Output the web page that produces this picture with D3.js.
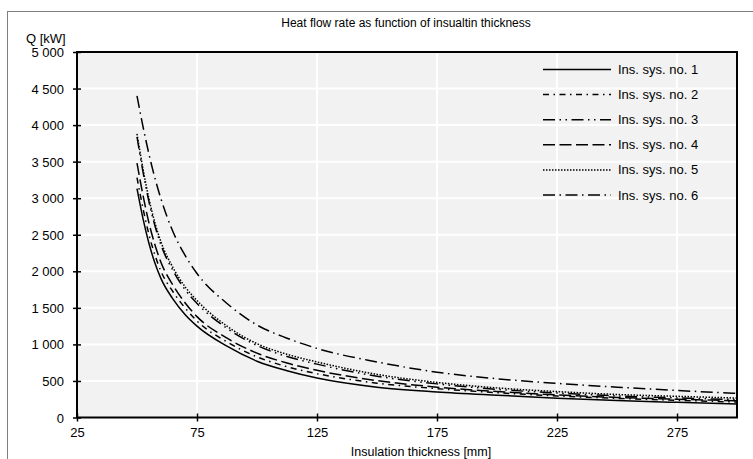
<!DOCTYPE html>
<html>
<head>
<meta charset="utf-8">
<script src="https://cdn.jsdelivr.net/npm/d3@7/dist/d3.min.js"></script>
<style>
  html, body { margin: 0; padding: 0; background: #fff; }
  svg { display: block; font-family: "Liberation Sans", Arial, sans-serif; }
</style>
</head>
<body>
<svg id="chart" width="753" height="459"></svg>
<script>
// ---------- data ----------
const title = "Heat flow rate as function of insualtin thickness";
const xTitle = "Insulation thickness [mm]";
const yTitle = "Q [kW]";
const thickness = [50, 52.5, 55, 57.5, 60, 65, 70, 75, 87.5, 100, 112.5, 125, 150, 175, 200, 225, 250, 275, 300];
const seriesNames = ["Ins. sys. no. 1", "Ins. sys. no. 2", "Ins. sys. no. 3", "Ins. sys. no. 4", "Ins. sys. no. 5", "Ins. sys. no. 6"];
const sys1 = [3130, 2720, 2380, 2110, 1900, 1620, 1410, 1250, 975, 770, 640, 540, 415, 350, 305, 265, 232, 207, 185];
const sys2 = [3280, 2860, 2500, 2220, 2000, 1720, 1500, 1320, 1035, 830, 695, 600, 470, 395, 340, 295, 262, 235, 212];
const sys3 = [3840, 3360, 2950, 2620, 2360, 2010, 1750, 1560, 1220, 985, 835, 730, 565, 460, 385, 335, 295, 268, 245];
const sys4 = [3480, 3040, 2660, 2360, 2120, 1810, 1570, 1380, 1085, 880, 745, 645, 505, 415, 355, 310, 275, 250, 230];
const sys5 = [3880, 3400, 2990, 2660, 2400, 2050, 1790, 1600, 1250, 1010, 865, 760, 590, 480, 405, 355, 315, 290, 266];
const sys6 = [4400, 3980, 3600, 3270, 2990, 2540, 2220, 1970, 1560, 1265, 1085, 945, 760, 620, 530, 467, 415, 370, 330];
const xTicks = [25, 75, 125, 175, 225, 275];
const yTicks = [0, 500, 1000, 1500, 2000, 2500, 3000, 3500, 4000, 4500, 5000];
const seriesValues = [sys1, sys2, sys3, sys4, sys5, sys6];
const dashes = ["none", "6,4.5,1.5,4.5", "12,4.5,1.5,4.5,1.5,4.5", "12,4.5", "1.5,1.5", "12,4.5,1.5,4.5"];

// ---------- layout ----------
const svg = d3.select("#chart");
const L = 77, R = 737, T = 52, B = 417.5;
const x = d3.scaleLinear().domain([25, 300]).range([L, R]);
const y = d3.scaleLinear().domain([0, 5000]).range([B, T]);
const fmt = v => d3.format(",")(v).replace(/,/g, " ");

// outer chart border
svg.append("rect").attr("x", 7.5).attr("y", 11.5).attr("width", 800).attr("height", 500)
  .attr("fill", "#fff").attr("stroke", "#7f7f7f").attr("stroke-width", 1);

// plot background
svg.append("rect").attr("x", L).attr("y", T).attr("width", R - L).attr("height", B - T)
  .attr("fill", "#f2f2f2");

// gridlines
svg.append("g").selectAll("line").data(yTicks.filter(d => d > 0 && d < 5000)).join("line")
  .attr("x1", L).attr("x2", R).attr("y1", d => y(d)).attr("y2", d => y(d))
  .attr("stroke", "#fff").attr("stroke-width", 2);
svg.append("g").selectAll("line").data(xTicks.filter(d => d > 25)).join("line")
  .attr("x1", d => x(d)).attr("x2", d => x(d)).attr("y1", T).attr("y2", B)
  .attr("stroke", "#fff").attr("stroke-width", 2);

// clip
svg.append("clipPath").attr("id", "clip").append("rect")
  .attr("x", L).attr("y", T).attr("width", R - L).attr("height", B - T);

// lines
const line = d3.line().x(d => x(d[0])).y(d => y(d[1])).curve(d3.curveMonotoneX);
const gLines = svg.append("g").attr("clip-path", "url(#clip)");
seriesValues.forEach((vals, i) => {
  gLines.append("path")
    .datum(thickness.map((t, j) => [t, vals[j]]))
    .attr("d", line)
    .attr("fill", "none")
    .attr("stroke", "#000")
    .attr("stroke-width", 1.5)
    .attr("stroke-dasharray", dashes[i]);
});

// plot frame
svg.append("rect").attr("x", L).attr("y", T).attr("width", R - L).attr("height", B - T)
  .attr("fill", "none").attr("stroke", "#000").attr("stroke-width", 2);

// axes (cross ticks)
const yAxis = d3.axisLeft(y).tickValues(yTicks).tickSize(0).tickFormat(fmt);
const gy = svg.append("g").attr("transform", `translate(${L},0)`).call(yAxis);
gy.select(".domain").remove();
gy.selectAll(".tick text").attr("x", -13).attr("dy", "0.35em").attr("font-size", 13)
  .attr("font-family", "Liberation Sans, Arial, sans-serif").attr("fill", "#000");
gy.selectAll(".tick").append("line").attr("x1", -4).attr("x2", 4)
  .attr("stroke", "#000").attr("stroke-width", 1.5);

const xAxis = d3.axisBottom(x).tickValues(xTicks).tickSize(0).tickFormat(d3.format("d"));
const gx = svg.append("g").attr("transform", `translate(0,${B})`).call(xAxis);
gx.select(".domain").remove();
gx.selectAll(".tick text").attr("y", 19.5).attr("dy", 0).attr("font-size", 13)
  .attr("font-family", "Liberation Sans, Arial, sans-serif").attr("fill", "#000");
gx.selectAll(".tick").append("line").attr("y1", -4).attr("y2", 4)
  .attr("stroke", "#000").attr("stroke-width", 1.5);

// titles
svg.append("text").attr("x", 406).attr("y", 27).attr("text-anchor", "middle")
  .attr("font-size", 12).text(title);
svg.append("text").attr("x", 26).attr("y", 43).attr("font-size", 13).text(yTitle);
svg.append("text").attr("x", 421).attr("y", 456).attr("text-anchor", "middle")
  .attr("font-size", 12.5).text(xTitle);

// legend
const lg = svg.append("g");
seriesNames.forEach((name, i) => {
  const ly = 69.5 + i * 25.1;
  lg.append("line").attr("x1", 543).attr("x2", 611).attr("y1", ly).attr("y2", ly)
    .attr("stroke", "#000").attr("stroke-width", 1.5).attr("stroke-dasharray", dashes[i]);
  lg.append("text").attr("x", 618).attr("y", ly).attr("dy", "0.35em")
    .attr("font-size", 13).text(name);
});
</script>
</body>
</html>
